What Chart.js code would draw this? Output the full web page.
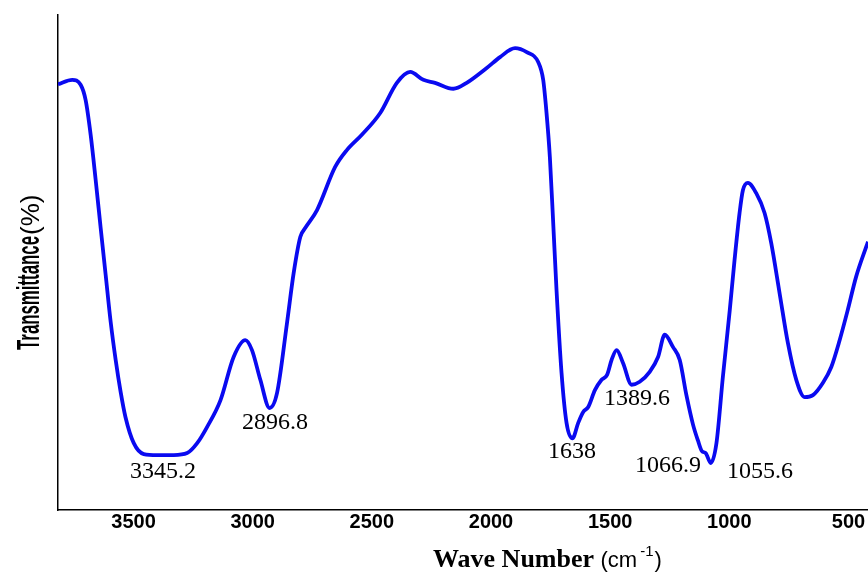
<!DOCTYPE html>
<html>
<head>
<meta charset="utf-8">
<script src="https://cdn.jsdelivr.net/npm/chart.js@4.4.1/dist/chart.umd.min.js"></script>
<style>
  html, body { margin: 0; padding: 0; background: #fff; }
  canvas { display: block; }
</style>
</head>
<body>
<canvas id="ftir" width="868" height="572"></canvas>
<script>
// FTIR spectrum (wave number in cm-1, transmittance in arbitrary %)
const waveNumbers = [
  3817, 3757, 3722, 3701, 3680, 3659, 3638, 3617, 3596, 3575, 3554, 3534, 3499, 3457,
  3401, 3331, 3275, 3233, 3191, 3135, 3080, 3031, 3003, 2968, 2929, 2898, 2856, 2828,
  2800, 2779, 2730, 2654, 2605, 2542, 2465, 2395, 2339, 2284, 2235, 2158, 2102, 2018,
  1962, 1899, 1850, 1802, 1781, 1767, 1753, 1739, 1725, 1704, 1683, 1658, 1634, 1613,
  1592, 1564, 1536, 1513, 1494, 1473, 1446, 1410, 1376, 1334, 1299, 1271, 1236, 1208,
  1180, 1152, 1132, 1115, 1099, 1078, 1054, 1027, 998, 978, 957, 943, 922, 887, 852,
  824, 789, 754, 719, 684, 649, 607, 572, 537, 503, 468, 426, 418
];
const transmittance = [
  86.0, 86.9, 85.9, 82.8, 75.8, 66.7, 57.0, 47.5, 38.0, 30.3, 23.8, 18.8, 13.5, 11.3,
  11.1, 11.1, 11.5, 13.5, 16.8, 22.2, 30.9, 34.3, 32.3, 26.3, 20.6, 23.6, 37.8, 47.9,
  55.2, 57.0, 60.6, 69.3, 72.7, 75.8, 80.2, 86.3, 88.5, 86.9, 86.3, 85.1, 86.3, 89.3,
  91.5, 93.3, 92.5, 90.5, 86.9, 80.2, 71.3, 58.0, 44.4, 27.7, 17.6, 14.5, 17.6, 19.8,
  20.8, 24.2, 26.3, 27.3, 30.3, 32.3, 29.7, 25.3, 25.9, 27.9, 30.9, 35.4, 32.9, 30.3,
  23.2, 17.2, 14.1, 11.9, 11.5, 9.5, 13.5, 26.9, 40.4, 50.5, 60.0, 64.6, 66.1, 64.0, 60.0,
  53.9, 43.8, 33.7, 26.3, 22.8, 23.2, 25.7, 28.9, 34.3, 40.4, 47.1, 53.1, 54.2
];
const xTicks = [3500, 3000, 2500, 2000, 1500, 1000, 500];

// peak labels and where they sit (in data units)
const peakLabels = ["3345.2", "2896.8", "1638", "1389.6", "1066.9", "1055.6"];
const peakLabelX = [3376, 2906, 1660, 1387, 1257, 871];
const peakLabelY = [7.7, 17.6, 11.7, 22.4, 8.9, 7.7];

const textPlugin = {
  id: "ftirText",
  afterDraw(chart) {
    const { ctx, scales } = chart;
    const xs = scales.x, ys = scales.y;
    ctx.save();
    ctx.fillStyle = "#000";

    // peak annotations
    ctx.font = '24px "Liberation Serif"';
    ctx.textAlign = "center";
    ctx.textBaseline = "middle";
    peakLabels.forEach((t, i) => {
      ctx.fillText(t, xs.getPixelForValue(peakLabelX[i]), ys.getPixelForValue(peakLabelY[i]));
    });

    // x title: Wave Number (cm-1)
    ctx.textAlign = "left";
    ctx.textBaseline = "alphabetic";
    let x = 433;
    const base = 567;
    ctx.font = 'bold 26px "Liberation Serif"';
    ctx.fillText("Wave Number", x, base);
    x += ctx.measureText("Wave Number ").width;
    ctx.font = '22px "Liberation Sans"';
    ctx.fillText("(cm", x, base);
    x += ctx.measureText("(cm").width + 3;
    ctx.font = '15px "Liberation Sans"';
    ctx.fillText("-1", x, base - 11);
    x += ctx.measureText("-1").width + 1;
    ctx.font = '22px "Liberation Sans"';
    ctx.fillText(")", x, base);

    // y title: Transmittance(%), squeezed
    ctx.translate(39, 350);
    ctx.rotate(-Math.PI / 2);
    ctx.font = 'bold 32px "Liberation Sans"';
    const w = ctx.measureText("Transmittance").width;
    const target = 114;
    ctx.save();
    ctx.scale(target / w, 1);
    ctx.fillText("Transmittance", 0, 0);
    ctx.restore();
    ctx.font = '26px "Liberation Sans"';
    ctx.fillText("(%)", target + 1, 0);
    ctx.restore();
  },
};

new Chart(document.getElementById("ftir"), {
  type: "line",
  data: {
    datasets: [
      {
        data: waveNumbers.map((v, i) => ({ x: v, y: transmittance[i] })),
        borderColor: "#0a0af0",
        borderWidth: 3.8,
        pointRadius: 0,
        cubicInterpolationMode: "monotone",
        fill: false,
      },
    ],
  },
  options: {
    responsive: false,
    animation: false,
    layout: { padding: { top: 15, right: 0, left: 0, bottom: 0 } },
    plugins: { legend: { display: false }, tooltip: { enabled: false } },
    scales: {
      x: {
        type: "linear",
        reverse: true,
        min: 418,
        max: 3817,
        afterBuildTicks: (s) => { s.ticks = xTicks.map((v) => ({ value: v })); },
        afterFit: (s) => { s.height = 62; },
        grid: { display: false, drawTicks: false },
        border: { display: true, color: "#000", width: 1.5 },
        ticks: {
          padding: 0,
          color: "#000",
          maxRotation: 0,
          autoSkip: false,
          font: { family: "Liberation Sans", weight: "bold", size: 20 },
          callback: (v) => String(v),
        },
      },
      y: {
        min: 0,
        max: 100,
        afterFit: (s) => { s.width = 58; },
        grid: { display: false, drawTicks: false },
        border: { display: true, color: "#000", width: 1.5 },
        ticks: { display: false },
      },
    },
  },
  plugins: [textPlugin],
});
</script>
</body>
</html>
